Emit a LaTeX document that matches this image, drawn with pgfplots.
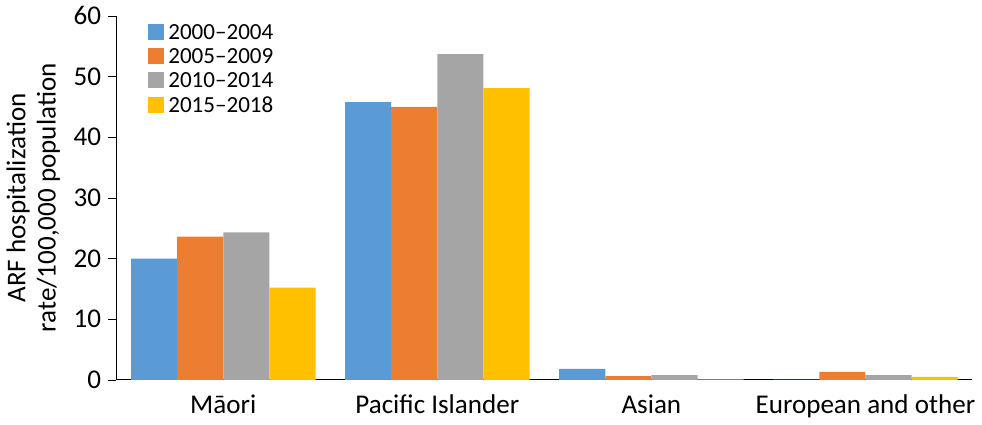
\documentclass[border=0pt]{standalone}
\usepackage{fontspec}
\setmainfont{Carlito}
\usepackage{pgfplots}
\pgfplotsset{compat=1.18}
\definecolor{c1}{HTML}{5B9BD5}
\definecolor{c2}{HTML}{ED7D31}
\definecolor{c3}{HTML}{A5A5A5}
\definecolor{c4}{HTML}{FFC000}
\begin{document}
\begin{tikzpicture}
\begin{axis}[
  scale only axis, width=427pt, height=181.5pt,
  ybar=0pt, bar width=23pt,
  xmin=-0.5, xmax=3.5, ymin=0, ymax=60,
  xtick=data, xticklabels={Māori,Pacific Islander,Asian,European and other},
  ytick={0,10,...,60},
  axis lines*=left, x axis line style={-}, y axis line style={-},
  xtick style={draw=none}, ytick style={black}, tick align=outside,
  major tick length=4pt,
  /pgf/number format/assume math mode=true,
  tick label style={font=\fontsize{13.5}{15}\selectfont},
  ylabel={ARF hospitalization\\rate/100,000 population},
  ylabel style={align=center, font=\fontsize{13.5}{15}\selectfont},
  legend style={draw=none, at={(0.03,1.0)}, anchor=north west, font=\fontsize{11.5}{13}\selectfont, row sep=-1pt},
  legend image code/.code={\draw[#1,draw=none] (0cm,-0.12cm) rectangle (0.28cm,0.16cm);},
]
\addplot[fill=c1,draw=none] coordinates {(0,20.0) (1,45.8) (2,1.8) (3,0.03)};
\addplot[fill=c2,draw=none] coordinates {(0,23.6) (1,45.0) (2,0.6) (3,1.3)};
\addplot[fill=c3,draw=none] coordinates {(0,24.3) (1,53.7) (2,0.8) (3,0.8)};
\addplot[fill=c4,draw=none] coordinates {(0,15.2) (1,48.1) (2,0.1) (3,0.5)};
\legend{2000–2004,2005–2009,2010–2014,2015–2018}
\end{axis}
\end{tikzpicture}
\end{document}
